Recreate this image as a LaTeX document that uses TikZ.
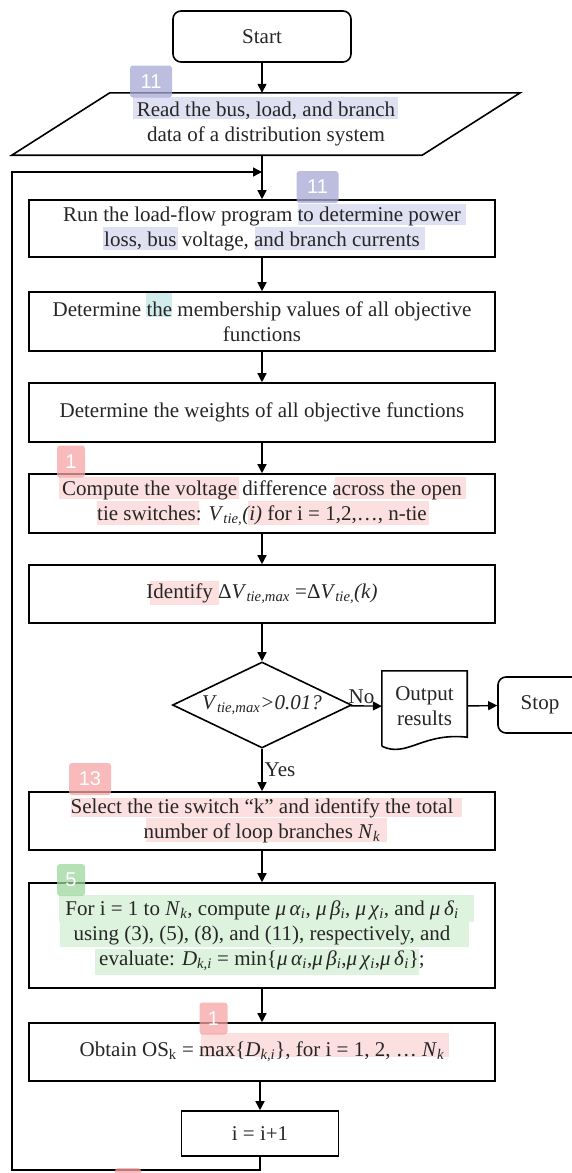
\documentclass[tikz,border=0pt]{standalone}
\usepackage{fontspec}
\setmainfont{Liberation Serif}
\newfontfamily\badgefont{Liberation Sans}
\usetikzlibrary{arrows.meta, positioning, shapes.geometric, calc}

\definecolor{markblue}{RGB}{224,224,243}
\definecolor{markred}{RGB}{252,224,224}
\definecolor{markgreen}{RGB}{222,243,222}
\definecolor{markteal}{RGB}{208,236,236}
\definecolor{badgeblue}{RGB}{168,168,214}
\definecolor{badgered}{RGB}{246,164,164}
\definecolor{badgegreen}{RGB}{158,214,158}
\newcommand{\flowfont}{\fontsize{21}{25}\selectfont}

\begin{document}
\begin{tikzpicture}[x=1pt, y=-1pt,
    box/.style={draw, line width=1.6pt, minimum width=466pt, minimum height=58pt, align=center, inner sep=2pt, text=black!85, font=\flowfont},
    term/.style={box, rounded corners=8pt, minimum width=178pt, minimum height=51pt},
    decision/.style={diamond, draw, line width=1.6pt, aspect=2.1, inner sep=0pt, minimum width=179pt, minimum height=86pt, text=black!85, font=\flowfont},
    arrow/.style={-{Triangle[length=9pt, width=9pt]}, line width=1.4pt},
    edgelabel/.style={font=\flowfont, text=black!85, inner sep=2pt},
    badge/.style={rounded corners=3pt, fill opacity=0.75, text opacity=1, text=white, font={\badgefont\fontsize{20}{20}\selectfont}, inner sep=0pt, minimum height=32pt},
]
    \useasboundingbox (0,0) rectangle (571,1173);
    \fill[white] (0,0) rectangle (571,1173);

    % highlight marks
    \fill[markblue] (133,97) rectangle (398,119);
    \fill[markblue] (298,204) rectangle (466,225);
    \fill[markblue] (103,227) rectangle (178,250);
    \fill[markblue] (255,227) rectangle (425,250);
    \fill[markteal] (146,293) rectangle (172,317);
    \fill[markred] (59,477) rectangle (239,499);
    \fill[markred] (335,477) rectangle (466,499);
    \fill[markred] (97,501) rectangle (199,525);
    \fill[markred] (248,501) rectangle (429,525);
    \fill[markred] (150,581) rectangle (219,605);
    \fill[markred] (71,798) rectangle (462,817);
    \fill[markred] (146,818) rectangle (387,842);
    \fill[markgreen] (59,895) rectangle (474,922);
    \fill[markgreen] (60,922) rectangle (469,947);
    \fill[markgreen] (95,949) rectangle (419,975);
    \fill[markred] (201,1033) rectangle (449,1057);

    \node[term] (start) at (262,36.5) {Start};
    \node[align=center, text=black!85, font=\flowfont, minimum width=410pt, minimum height=62pt, inner sep=0pt] (read) at (266,124)
        {Read the bus, load, and branch\\data of a distribution system};
    \draw[line width=1.6pt] ($(read.south west)+(-49,0)$) -- ($(read.north west)+(49,0)$)
        -- ($(read.north east)+(49,0)$) -- ($(read.south east)+(-49,0)$) -- cycle;

    \node[box, minimum height=57pt] (run) at (262,228.5)
        {Run the load-flow program to determine power\\loss, bus voltage, and branch currents};
    \node[box, minimum height=59pt] (memb) at (262,321.5)
        {Determine the membership values of all objective\\functions};
    \node[box, minimum height=59pt] (weights) at (262,412.5)
        {Determine the weights of all objective functions};
    \node[box, minimum height=59pt] (diff) at (262,503.5)
        {Compute the voltage difference across the open\\tie switches: \textit{V}\textsubscript{\textit{tie,}}\textit{(i)} for i = 1,2,…, n-tie};
    \node[box] (ident) at (262,594)
        {Identify Δ\textit{V}\textsubscript{\textit{tie,max}} =Δ\textit{V}\textsubscript{\textit{tie,}}\textit{(k)}};
    \node[decision] (check) at (262,705)
        {\textit{V}\textsubscript{\textit{tie,max}}\textit{>0.01?}};

    \node[align=center, text=black!85, font=\flowfont, minimum width=85pt, minimum height=71pt, inner sep=0pt] (result) at (424.5,706.5)
        {Output\\results};
    \draw[line width=1.6pt] ($(result.south west)+(0,4)$) -- (result.north west) -- (result.north east)
        -- ($(result.south east)+(0,-5)$)
        .. controls ($(result.south east)+(-45,-10)$) and ($(result.south west)+(25,16)$) .. ($(result.south west)+(0,4)$);
    \node[term, minimum width=84pt, minimum height=56pt] (stop) at (540,705) {Stop};

    \node[box] (select) at (262,821)
        {Select the tie switch “k” and identify the total\\number of loop branches \textit{N}\textsubscript{\textit{k}}};
    \node[box, minimum height=105pt] (compute) at (262,935.5)
        {For i = 1 to \textit{N}\textsubscript{\textit{k}}, compute \textit{μ\,α}\textsubscript{\textit{i}}, \textit{μ\,β}\textsubscript{\textit{i}}, \textit{μ\,χ}\textsubscript{\textit{i}}, and \textit{μ\,δ}\textsubscript{\textit{i}}\\
        using (3), (5), (8), and (11), respectively, and\\
        evaluate: \textit{D}\textsubscript{\textit{k,i}} = min\{\textit{μ\,α}\textsubscript{\textit{i}},\textit{μ\,β}\textsubscript{\textit{i}},\textit{μ\,χ}\textsubscript{\textit{i}},\textit{μ\,δ}\textsubscript{\textit{i}}\};};
    \node[box] (obtain) at (262,1052)
        {Obtain OS\textsubscript{k} = max\{\textit{D}\textsubscript{\textit{k,i}}\}, for i = 1, 2, … \textit{N}\textsubscript{\textit{k}}};
    \node[box, minimum width=157pt, minimum height=45pt] (inc) at (260,1133.5) {i = i+1};

    \coordinate (loopB) at (12,1170);
    \coordinate (loopT) at (262,172);

    \draw[arrow] (start) -- (start |- read.north);
    \draw[arrow] (read.south -| run) -- (run);
    \draw[arrow] (run) -- (memb);
    \draw[arrow] (memb) -- (weights);
    \draw[arrow] (weights) -- (diff);
    \draw[arrow] (diff) -- (ident);
    \draw[arrow] (ident) -- (check);
    \draw[arrow] (check) -- node[edgelabel, above, pos=0.35] {No} (result);
    \draw[arrow] (result) -- (stop);
    \draw[arrow] (check) -- node[edgelabel, right, pos=0.5] {Yes} (select);
    \draw[arrow] (select) -- (compute);
    \draw[arrow] (compute) -- (obtain);
    \draw[arrow] (obtain.south -| inc) -- (inc);
    \draw[arrow] (inc.south) |- (loopB) |- (loopT);

    % report badges
    \node[badge, fill=badgeblue, minimum width=42pt] (mark1) at (151,81.5) {11};
    \node[badge, fill=badgeblue, minimum width=42pt] (mark2) at (317.5,187) {11};
    \node[badge, fill=badgered, minimum width=28pt] (mark3) at (71,461.5) {1};
    \node[badge, fill=badgered, minimum width=42pt] (mark4) at (90,779) {13};
    \node[badge, fill=badgegreen, minimum width=28pt] (mark5) at (71,880) {5};
    \node[badge, fill=badgered, minimum width=28pt] (mark6) at (213.5,1018.5) {1};
    \fill[badgered, fill opacity=0.75, rounded corners=3pt] (115,1168) rectangle (141,1190);
\end{tikzpicture}
\end{document}
